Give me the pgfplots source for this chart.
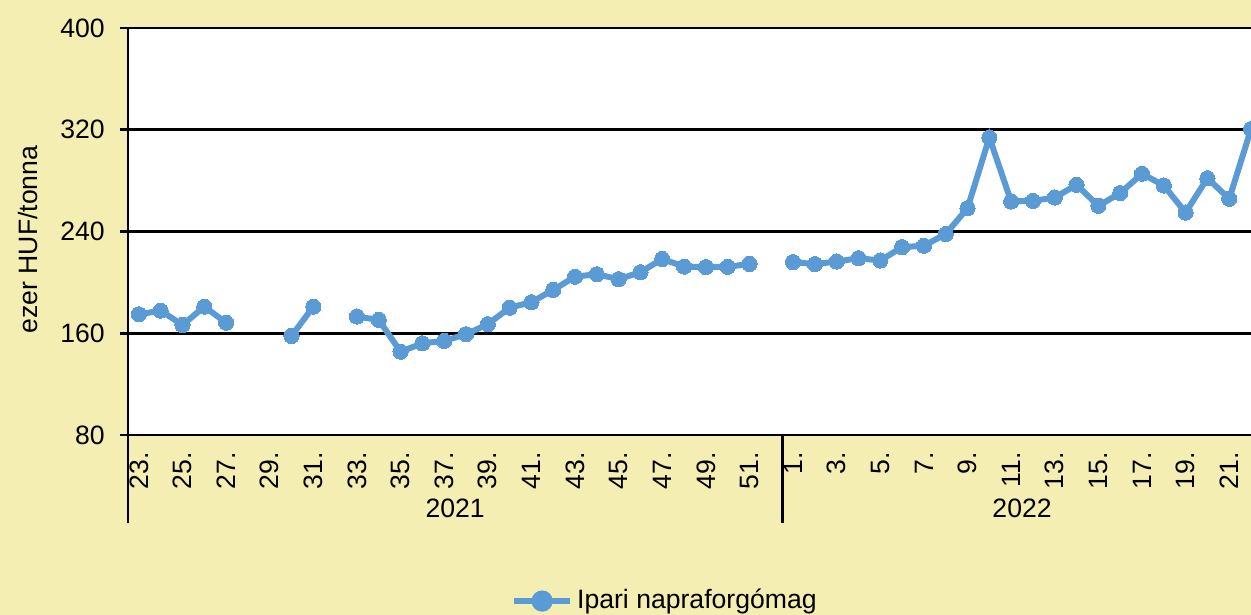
\documentclass[border=0pt]{standalone}
\usepackage{pgfplots}
\pgfplotsset{compat=1.18}
\usepackage{fontspec}
\setmainfont{Liberation Sans}
\definecolor{bg}{RGB}{244,238,178}
\definecolor{ser}{RGB}{91,155,213}
\newcommand{\ff}{\fontsize{13.3bp}{15.5bp}\selectfont}
\begin{document}
\ff
\begin{tikzpicture}
\clip (0,0) rectangle (625.5bp,307.5bp);
\fill[bg] (0,0) rectangle (625.5bp,307.5bp);
\begin{axis}[
  at={(64bp,90bp)}, anchor=south west,
  scale only axis, width=561.5bp, height=203.5bp,
  xmin=-0.5, xmax=51, ymin=80, ymax=400,
  axis background/.style={fill=white},
  axis x line*=bottom, axis y line*=left,
  axis line style={black, line width=1.4pt},
  ytick={80,160,240,320,400},
  ymajorgrids, grid style={black, line width=1.4pt},
  tick align=outside, major tick length=4bp,
  ytick style={black, line width=1.4pt},
  xtick={0,2,4,6,8,10,12,14,16,18,20,22,24,26,28,30,32,34,36,38,40,42,44,46,48,50},
  xticklabels={23.,25.,27.,29.,31.,33.,35.,37.,39.,41.,43.,45.,47.,49.,51.,1.,3.,5.,7.,9.,11.,13.,15.,17.,19.,21.},
  xtick style={draw=none},
  xticklabel style={rotate=90, anchor=east, font=\ff},
  yticklabel style={font=\ff, xshift=-3bp},
  /pgf/number format/assume math mode=true,
  clip=false,
  unbounded coords=jump,
  legend style={at={(axis description cs:0.479,-0.408)}, anchor=center, draw=none, fill=none, font=\ff, inner sep=0pt},
  legend image code/.code={\draw[ser, line width=3bp] (0bp,0bp) -- (28bp,0bp); \fill[ser] (14bp,0bp) circle (3.8bp);},
]
\addplot[ser, line width=3bp, mark=*, mark size=3.8bp, mark options={fill=ser, draw=ser, line width=0pt}] table[x=i, y=v] {
i v
0 174.9
1 177.8
2 166.5
3 180.9
4 168.3
5 nan
6 nan
7 157.9
8 180.9
9 nan
10 173.1
11 170.5
12 145.5
13 152.1
14 154.0
15 159.2
16 167.1
17 180.1
18 184.4
19 194.1
20 204.5
21 206.4
22 202.5
23 208.0
24 218.4
25 212.4
26 212.0
27 212.2
28 214.5
29 nan
30 215.9
31 214.4
32 216.4
33 219.0
34 217.2
35 227.7
36 228.8
37 238.0
38 258.4
39 313.9
40 263.6
41 264.1
42 266.7
43 276.7
44 260.2
45 270.2
46 285.4
47 276.2
48 254.9
49 281.9
50 265.7
51 320.5
};
\addlegendentry{Ipari napraforgómag}
\draw[black, line width=1.4pt] (axis cs:-0.5,80) -- ([yshift=-44bp]axis cs:-0.5,80);
\draw[black, line width=1.4pt] (axis cs:29.5,80) -- ([yshift=-44bp]axis cs:29.5,80);
\node at ([yshift=-36.5bp]axis cs:14.5,80) {2021};
\node at ([yshift=-36.5bp]axis cs:40.5,80) {2022};
\node[rotate=90] at ([xshift=-50bp,yshift=-4bp]axis description cs:0,0.5) {ezer HUF/tonna};
\end{axis}
\end{tikzpicture}
\end{document}
